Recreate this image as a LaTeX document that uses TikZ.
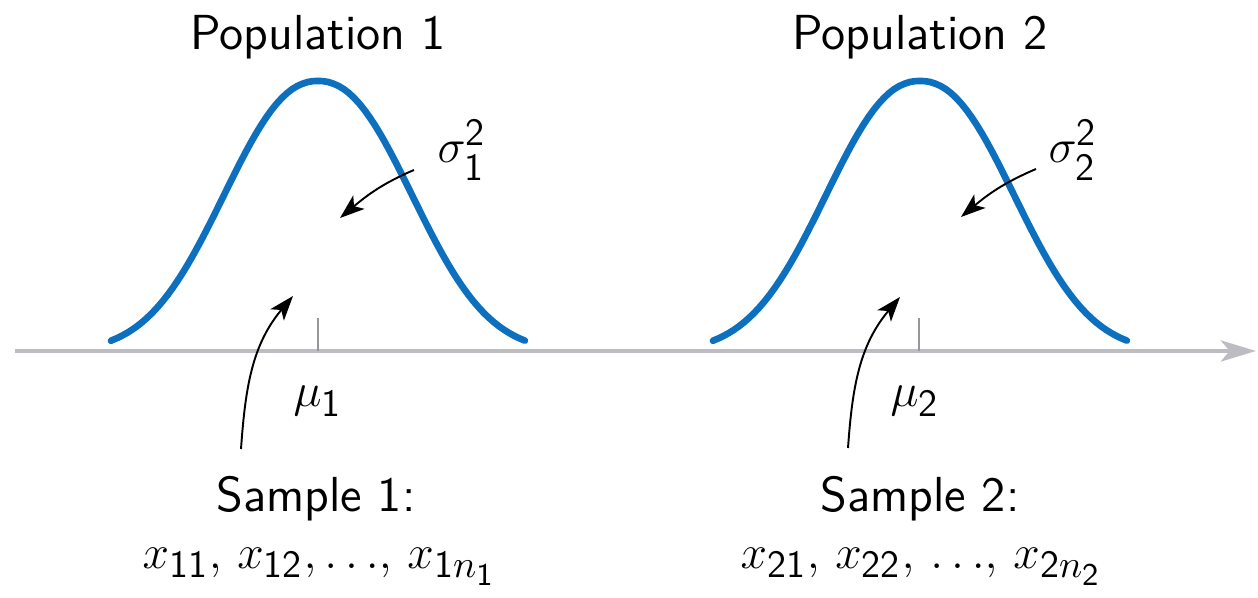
\documentclass[tikz,border=0pt]{standalone}
\usepackage{fix-cm}
\usepackage{amsmath}
\usepackage{fontspec}
\usepackage{tikz}
\usetikzlibrary{arrows.meta}
\DeclareMathSizes{13.5}{13.5}{11}{9}

\definecolor{popblue}{RGB}{12,112,190}
\definecolor{axisgray}{RGB}{188,188,194}

\tikzset{
  curve/.style={popblue, line width=1.9pt, line cap=round},
  pointer/.style={-{Stealth[length=7pt,width=5pt,inset=1.8pt]}, line width=0.55pt},
  axisline/.style={axisgray, line width=1.1pt, -{Stealth[length=10pt,width=6pt,inset=2.5pt]}},
  ticks/.style={axisgray!80!black, line width=0.35pt}
}

\begin{document}
\begin{tikzpicture}[x=0.01cm, y=0.01cm,
    lbl/.style={font=\fontsize{14}{17}\selectfont\sffamily, inner sep=0pt},
    mlbl/.style={font=\fontsize{13.5}{16}\selectfont, inner sep=0pt}]
		\useasboundingbox (0,0) rectangle (1258,597);
		% axis and means
		\coordinate (axstart) at (15,246);
		\coordinate (axend) at (1256,246);
		\coordinate (mu1) at (318,246);
		\coordinate (mu2) at (919,246);
		\draw[axisline] (axstart) -- (axend);
		\draw[ticks] (mu1) -- ++(0,33);
		\draw[ticks] (mu2) -- ++(0,33);
		% the two populations
		\draw[curve] plot[domain=-1.679:1.679, samples=81, variable=\t] ({318+123.3*\t}, {245+271*exp(-pow(abs(\t)+0.0001,2.23))});
		\draw[curve] plot[domain=-1.679:1.679, samples=81, variable=\t] ({920+123.3*\t}, {245+271*exp(-pow(abs(\t)+0.0001,2.23))});
		\node[lbl, anchor=base] (pop1) at (318,547) {Population 1};
		\node[lbl, anchor=base] (pop2) at (920,547) {Population 2};
		\node[mlbl, anchor=base west] (sig1) at (437,434) {$\sigma^{\mathsf{2}}_{\mathsf{1}}$};
		\node[mlbl, anchor=base west] (sig2) at (1048,434) {$\sigma^{\mathsf{2}}_{\mathsf{2}}$};
		\node[mlbl, anchor=base west] (mu1lbl) at (293,190) {$\mu_{\mathsf{1}}$};
		\node[mlbl, anchor=base west] (mu2lbl) at (890,190) {$\mu_{\mathsf{2}}$};
		% samples
		\node[lbl, anchor=base] (samp1) at (316,85) {Sample 1:};
		\node[lbl, anchor=base] (samp2) at (920,85) {Sample 2:};
		\node[mlbl, anchor=base west] (xs1) at (142,29) {$x_{\mathsf{11}},\, x_{\mathsf{12}},{\ldots},\, x_{\mathsf{1}n_{\mathsf{1}}}$};
		\node[mlbl, anchor=base west] (xs2) at (740,29) {$x_{\mathsf{21}},\, x_{\mathsf{22}},\, {\ldots},\, x_{\mathsf{2}n_{\mathsf{2}}}$};
		% pointers
		\coordinate (s1from) at (414,427);
		\coordinate (s1to) at (340,379);
		\coordinate (s2from) at (1036,428);
		\coordinate (s2to) at (961,380);
		\coordinate (m1from) at (241,148);
		\coordinate (m1to) at (293,301);
		\coordinate (m2from) at (848,149);
		\coordinate (m2to) at (900,300);
		\draw[pointer] (s1from) to[out=203, in=40] (s1to);
		\draw[pointer] (s2from) to[out=203, in=40] (s2to);
		\draw[pointer] (m1from) to[out=86, in=230] (m1to);
		\draw[pointer] (m2from) to[out=86, in=230] (m2to);
	\end{tikzpicture}
\end{document}
